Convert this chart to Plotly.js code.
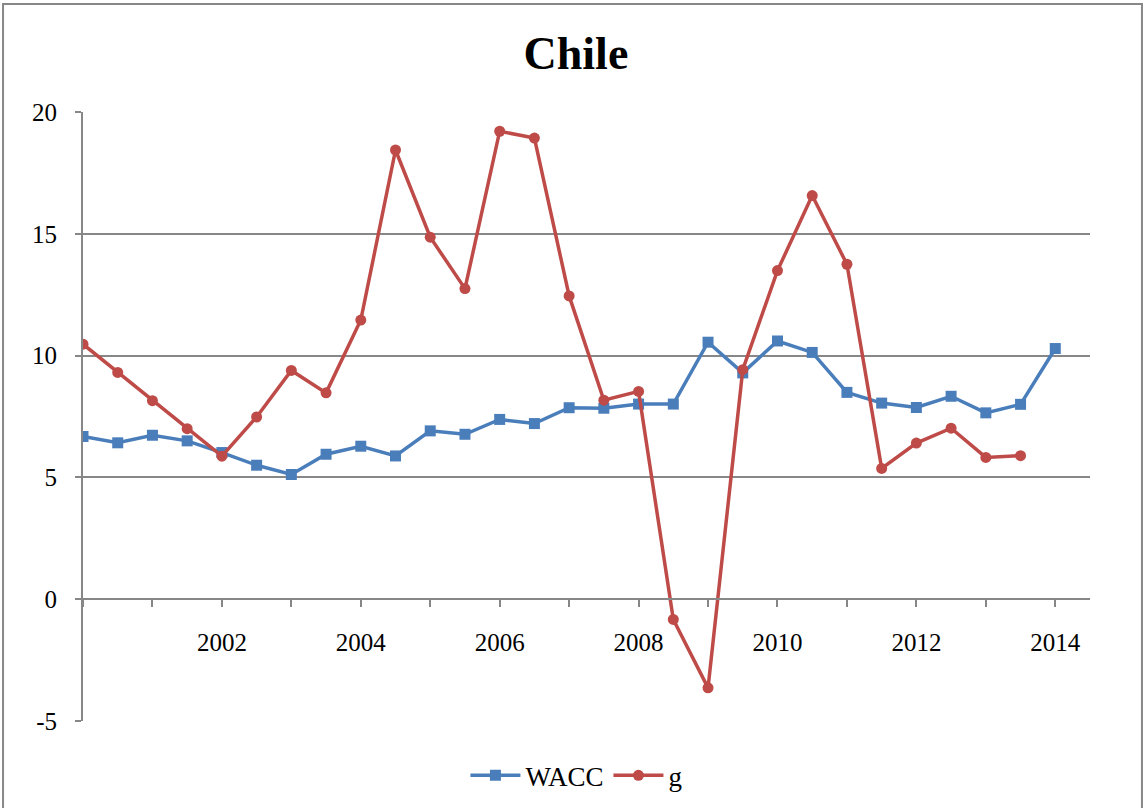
<!DOCTYPE html>
<html>
<head>
<meta charset="utf-8">
<script src="https://cdn.plot.ly/plotly-3.0.1.min.js"></script>
<style>
html, body { margin: 0; padding: 0; background: #ffffff; }
#chart { width: 1145px; height: 808px; }
</style>
</head>
<body>
<div id="chart"></div>
<script>
// Data (half-yearly observations)
var periods = [2000.0, 2000.5, 2001.0, 2001.5, 2002.0, 2002.5, 2003.0, 2003.5, 2004.0, 2004.5,
               2005.0, 2005.5, 2006.0, 2006.5, 2007.0, 2007.5, 2008.0, 2008.5, 2009.0, 2009.5,
               2010.0, 2010.5, 2011.0, 2011.5, 2012.0, 2012.5, 2013.0, 2013.5, 2014.0];
var wacc = [6.68, 6.42, 6.73, 6.50, 6.02, 5.50, 5.12, 5.95, 6.28, 5.88,
            6.91, 6.77, 7.38, 7.21, 7.86, 7.84, 8.01, 8.01, 10.55, 9.29,
            10.60, 10.13, 8.49, 8.05, 7.87, 8.33, 7.65, 8.00, 10.29];
var g = [10.47, 9.31, 8.15, 7.00, 5.87, 7.48, 9.39, 8.47, 11.46, 18.44,
         14.86, 12.75, 19.21, 18.93, 12.45, 8.17, 8.53, -0.83, -3.64, 9.42,
         13.49, 16.57, 13.75, 5.37, 6.41, 7.02, 5.82, 5.89];
var tickYears = [2000, 2001, 2002, 2003, 2004, 2005, 2006, 2007, 2008, 2009, 2010, 2011, 2012, 2013, 2014];
var tickLabels = ['', '', '2002', '', '2004', '', '2006', '', '2008', '', '2010', '', '2012', '', '2014'];
var yTicks = [-5, 0, 5, 10, 15, 20];
var yTickLabels = ['-5', '0', '5', '10', '15', '20'];

var gridColor = '#878787';
var serif = "'Liberation Serif', 'Times New Roman', Times, serif";

var traces = [
  {
    x: periods, y: wacc, name: 'WACC', type: 'scatter', mode: 'lines+markers',
    line: {color: '#4a7ebb', width: 3.5},
    marker: {symbol: 'square', size: 11, color: '#4a7ebb'}
  },
  {
    x: periods.slice(0, g.length), y: g, name: 'g', type: 'scatter', mode: 'lines+markers',
    line: {color: '#be4b48', width: 3.5},
    marker: {symbol: 'circle', size: 11, color: '#be4b48'}
  }
];

var layout = {
  width: 1145, height: 808,
  margin: {l: 83, r: 55, t: 112, b: 87, autoexpand: false},
  paper_bgcolor: '#ffffff', plot_bgcolor: '#ffffff',
  font: {family: serif, size: 25, color: '#000000'},
  title: {text: '<b>Chile</b>', font: {family: serif, size: 46, color: '#000000'},
          x: 0.503, xanchor: 'center', y: 0.935, yanchor: 'middle'},
  showlegend: true,
  legend: {orientation: 'h', x: 0.49, xanchor: 'center', y: -0.09, yanchor: 'middle',
           itemwidth: 50,
           font: {family: serif, size: 27, color: '#000000'}, bgcolor: 'rgba(0,0,0,0)'},
  xaxis: {
    range: [2000, 2014.5], anchor: 'free', position: 0.2, automargin: false,
    tickmode: 'array', tickvals: tickYears, ticktext: tickLabels,
    ticks: 'outside', ticklen: 7, tickwidth: 2, tickcolor: gridColor,
    showline: true, linecolor: gridColor, linewidth: 2,
    showgrid: false, zeroline: false, ticklabelstandoff: 14,
    tickfont: {family: serif, size: 25, color: '#000000'}
  },
  yaxis: {
    range: [-5, 20], tickmode: 'array', tickvals: yTicks, ticktext: yTickLabels, automargin: false,
    ticks: 'outside', ticklen: 6, tickwidth: 2, tickcolor: gridColor,
    showline: true, linecolor: gridColor, linewidth: 2,
    showgrid: true, gridcolor: gridColor, gridwidth: 2, zeroline: false,
    ticklabelstandoff: 13,
    tickfont: {family: serif, size: 25, color: '#000000'}
  },
  shapes: [
    {type: 'rect', xref: 'paper', yref: 'paper',
     x0: -0.0794, x1: 1.0516, y0: 1.1773, y1: -0.16,
     line: {color: gridColor, width: 2}, fillcolor: 'rgba(0,0,0,0)', layer: 'below'}
  ]
};

Plotly.newPlot('chart', traces, layout, {displayModeBar: false, staticPlot: true});
</script>
</body>
</html>
